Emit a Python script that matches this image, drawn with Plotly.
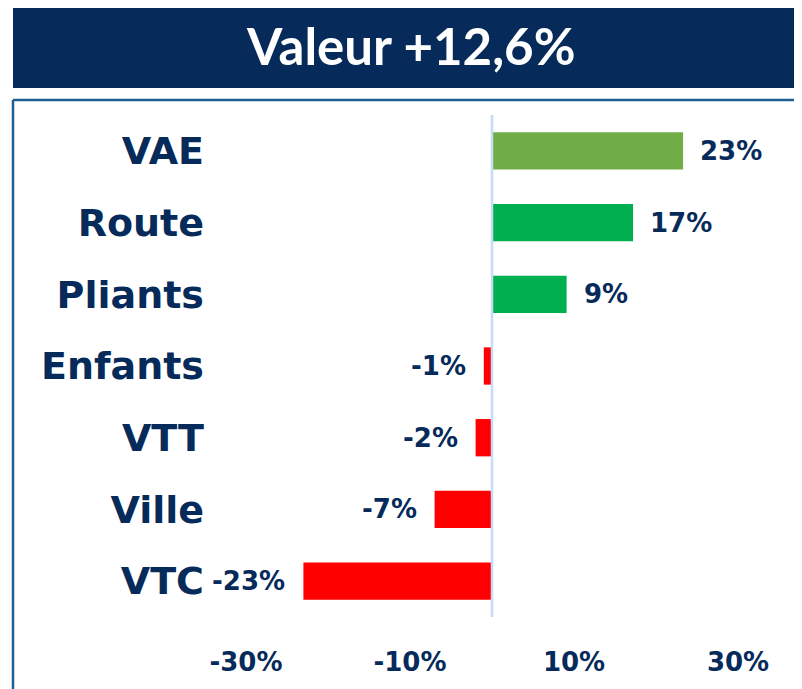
import plotly.graph_objects as go

categories = ["VAE", "Route", "Pliants", "Enfants", "VTT", "Ville", "VTC"]
values = [23.3, 17.2, 9.1, -1.0, -2.0, -7.0, -23.0]
value_labels = ["23%", "17%", "9%", "-1%", "-2%", "-7%", "-23%"]
bar_colors = ["#70AD47", "#00B050", "#00B050", "#FF0000", "#FF0000", "#FF0000", "#FF0000"]
tick_vals = [-30, -10, 10, 30]
tick_text = ["-30%", "-10%", "10%", "30%"]
title_text = "Valeur +12,6%"

NAVY = "#062A5A"
FONT = "DejaVu Sans"
TITLE_FONT = "Lato"

# plot area in pixels (page has 8px body offset)
PL, PT, PW, PH = 238, 107, 492, 502


def px_x(x):
    return (x - 8 - PL) / PW


def px_y(y):
    return (PT + PH - (y - 8)) / PH


fig = go.Figure()
fig.add_trace(go.Bar(
    y=categories, x=values, orientation="h",
    marker=dict(color=bar_colors, line=dict(width=0)),
    hoverinfo="skip",
))

for cat, v, lab in zip(categories, values, value_labels):
    fig.add_annotation(
        x=v, y=cat, xref="x", yref="y", text=f"<b>{lab}</b>", showarrow=False,
        xanchor="left" if v >= 0 else "right",
        xshift=15 if v >= 0 else -16,
        font=dict(family=FONT, size=26, color=NAVY),
    )

# title box
fig.add_shape(type="rect", xref="paper", yref="paper",
              x0=px_x(13), x1=px_x(830), y0=px_y(7), y1=px_y(88),
              fillcolor=NAVY, line=dict(width=0), layer="below")
fig.add_annotation(xref="paper", yref="paper", x=px_x(411), y=px_y(46),
                   text=f"<b>{title_text}</b>", showarrow=False,
                   xanchor="center", yanchor="middle",
                   font=dict(family=TITLE_FONT, size=51, color="white"))
# chart border (left + top)
bx = px_x(13)
by = px_y(100)
fig.add_shape(type="line", xref="paper", yref="paper", x0=bx, x1=bx, y0=by, y1=-0.3,
              line=dict(color="#1F5F94", width=2.5))
fig.add_shape(type="line", xref="paper", yref="paper", x0=bx, x1=1.3, y0=by, y1=by,
              line=dict(color="#1F5F94", width=2.5))
# zero line
fig.add_shape(type="line", xref="x", yref="paper", x0=0, x1=0, y0=0, y1=1,
              line=dict(color="#C6DBF5", width=2.5), layer="above")

fig.update_layout(
    width=802, height=689,
    margin=dict(l=PL, r=802 - PL - PW, t=PT, b=689 - PT - PH),
    paper_bgcolor="white", plot_bgcolor="white",
    showlegend=False, bargap=0.48,
    xaxis=dict(range=[-30, 30], tickvals=tick_vals, ticktext=tick_text,
               showgrid=False, zeroline=False, showline=False, ticks="",
               ticklabelstandoff=27,
               tickfont=dict(family=FONT, size=26, color=NAVY, weight="bold")),
    yaxis=dict(categoryorder="array", categoryarray=categories[::-1],
               showgrid=False, zeroline=False, showline=False, ticks="",
               ticklabelstandoff=41,
               tickfont=dict(family=FONT, size=38, color=NAVY, weight="bold")),
)

fig.write_html("out.html")
